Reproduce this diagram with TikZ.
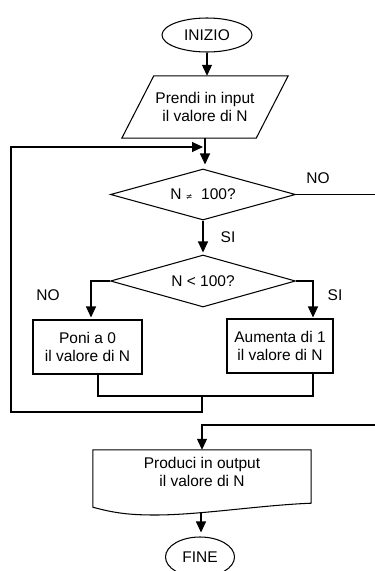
\documentclass[tikz,border=0pt]{standalone}
\usepackage{fontspec}
\setmainfont{Liberation Sans}
\newfontfamily\mathsymfont{DejaVu Sans}
\usetikzlibrary{arrows.meta,shapes.geometric}
\begin{document}
\begin{tikzpicture}[x=1pt,y=-1pt,
  every node/.style={font=\fontsize{15.5}{18.5}\selectfont, inner sep=0pt},
  line/.style={draw=black, line width=1.05pt},
  arr/.style={line, -{Triangle[length=11pt,width=10pt]}},
  terminal/.style={ellipse, draw, line width=1.05pt, minimum width=90pt, minimum height=34pt},
  decision/.style={diamond, draw, line width=1.05pt, aspect=3.6, minimum width=185pt, minimum height=51pt},
  process/.style={rectangle, draw, line width=1.05pt, minimum height=54pt, align=center},
  iobox/.style={rectangle, align=center}]

\useasboundingbox (0,0) rectangle (375,571);
\clip (0,0) rectangle (375,571);

% blocks
\node[terminal] (start) at (207,35) {INIZIO};

\node[iobox, minimum width=134pt, minimum height=62pt] (inp) at (205,107) {Prendi in input\\il valore di N};
\draw[line] ([xshift=16pt]inp.north west) -- ([xshift=16pt]inp.north east)
  -- ([xshift=-16pt]inp.south east) -- ([xshift=-16pt]inp.south west) -- cycle;

\node[decision] (d1) at (203,194.5) {N {\mathsymfont\fontsize{8}{8}\selectfont ≠}\ \ 100?};
\node[decision, minimum height=52pt] (d2) at (203,281) {N < 100?};

\node[process, minimum width=109pt] (bl) at (87.5,347) {Poni a 0\\il valore di N};
\node[process, minimum width=106pt] (br) at (280,346) {Aumenta di 1\\il valore di N};

\node[iobox, minimum width=218pt, minimum height=44pt] (out) at (202,472) {Produci in output\\il valore di N};
\draw[line] (out.north west) -- (out.north east) -- ([yshift=-9pt]out.south east)
  .. controls +(-51,2) and +(45,0) .. (155,515)
  .. controls +(-25,0) and +(22,6) .. ([yshift=-13pt]out.south west) -- cycle;

\node[terminal, minimum width=69pt, minimum height=40pt] (fine) at (200,557) {FINE};

% branch labels
\node (no1) at (318,178) {NO};
\node (si1) at (228,237) {SI};
\node (no2) at (48,295) {NO};
\node (si2) at (335,295) {SI};

% routing points
\coordinate (reentry) at (205,147);
\coordinate (merge) at (202,396);
\coordinate (back) at (11,412);
\coordinate (exitR) at (390,425);
\coordinate (outwave) at (201,513);

% connectors
\draw[arr] (start.south) -- (start.south |- inp.north);
\draw[arr, shorten >=4pt] (inp.south -| reentry) -- (reentry |- d1.north);
\draw[arr, shorten >=2pt] (d1.south) -- (d2.north);
\draw[arr] (d1.east) -| (exitR) -| (out.north);
\draw[arr, shorten >=2pt] (d2.west) -| ([xshift=3.5pt]bl.north);
\draw[arr, shorten >=1pt] (d2.east) -| ([xshift=33pt]br.north);
\draw[line] ([xshift=10.5pt]bl.south) |- (merge) -| ([xshift=33pt]br.south);
\draw[arr] (merge) |- (back) |- ([xshift=-2pt]reentry);
\draw[arr, shorten >=4pt] (outwave) -- (outwave |- fine.north);
\end{tikzpicture}
\end{document}
